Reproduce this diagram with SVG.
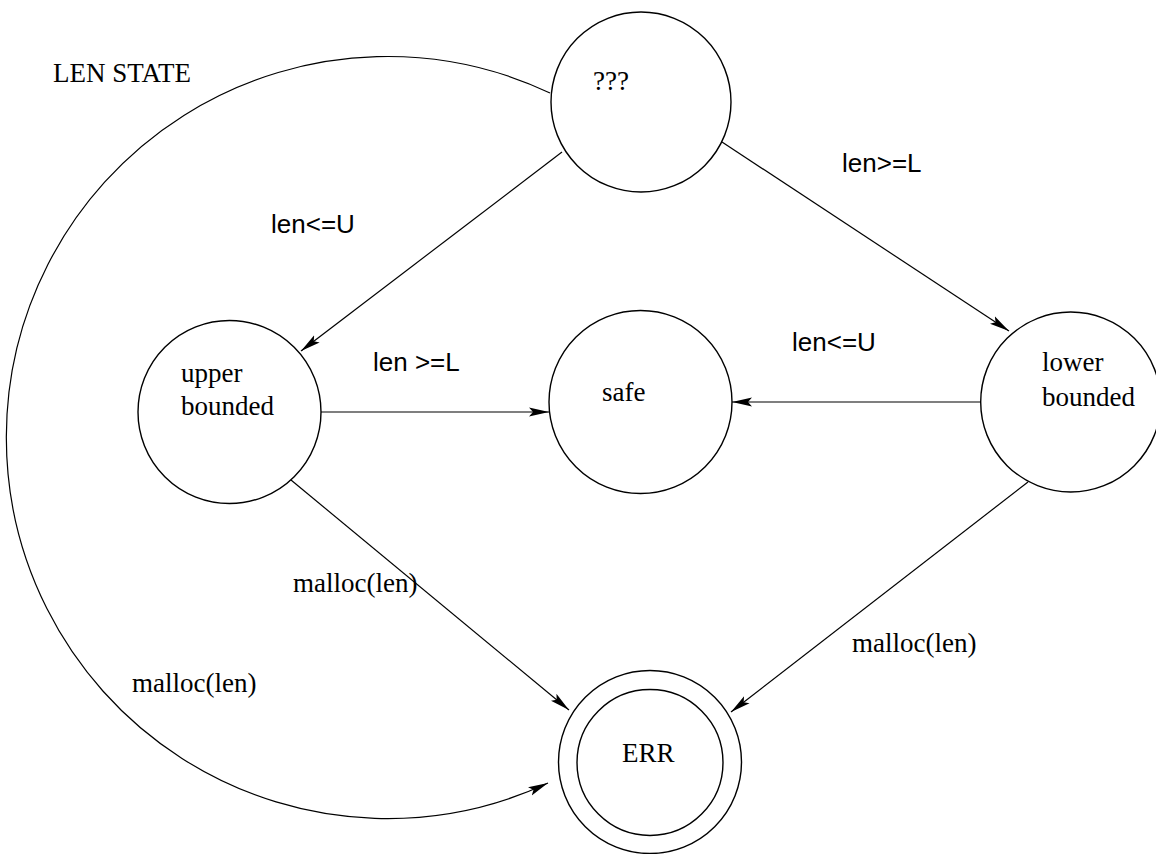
<svg xmlns="http://www.w3.org/2000/svg" width="1156" height="854" viewBox="0 0 1156 854">
<style>
.st{fill:none;stroke:#000;stroke-width:1.4}
.ln{fill:none;stroke:#000;stroke-width:1.2}
.tr{font-family:"Liberation Serif","Times New Roman",serif;font-size:27px;fill:#000}
.ts{font-family:"Liberation Sans",Arial,sans-serif;font-size:26px;fill:#000}
</style>
<defs>
<marker id="ah" markerUnits="userSpaceOnUse" viewBox="0 0 20 10" markerWidth="20" markerHeight="10" refX="20" refY="5" orient="auto">
<path d="M0,0.5 L20,5 L0,9.5 L4,5 z" fill="#000"/>
</marker>
</defs>
<rect width="1156" height="854" fill="#fff"/>
<text class="tr" x="53" y="82">LEN STATE</text>
<g id="unknown">
<circle class="st" cx="641" cy="102" r="90"/>
<text class="tr" x="593" y="90">???</text>
</g>
<g id="upper">
<circle class="st" cx="229.5" cy="412" r="91.5"/>
<text class="tr" x="181" y="382">upper</text>
<text class="tr" x="181" y="415">bounded</text>
</g>
<g id="safe">
<circle class="st" cx="640.5" cy="402" r="91.5"/>
<text class="tr" x="602" y="401">safe</text>
</g>
<g id="lower">
<circle class="st" cx="1070.7" cy="402" r="90"/>
<text class="tr" x="1042" y="371">lower</text>
<text class="tr" x="1042" y="406">bounded</text>
</g>
<g id="err">
<circle class="st" cx="650" cy="762" r="91.5"/>
<circle class="st" cx="650" cy="762.5" r="73"/>
<text class="tr" x="622" y="762">ERR</text>
</g>
<g id="connectors">
<line class="ln" x1="562" y1="152" x2="301" y2="351" marker-end="url(#ah)"/>
<line class="ln" x1="722" y1="142" x2="1009" y2="331" marker-end="url(#ah)"/>
<line class="ln" x1="321" y1="412" x2="549" y2="412" marker-end="url(#ah)"/>
<line class="ln" x1="981" y1="402" x2="732" y2="402" marker-end="url(#ah)"/>
<line class="ln" x1="291" y1="480" x2="569" y2="710" marker-end="url(#ah)"/>
<line class="ln" x1="1028" y1="482" x2="731" y2="712" marker-end="url(#ah)"/>
<path class="ln" d="M550,93 A381,381 0 1 0 548,783" marker-end="url(#ah)"/>
<text class="ts" x="271" y="233">len&lt;=U</text>
<text class="ts" x="842" y="172">len&gt;=L</text>
<text class="ts" x="373" y="371">len &gt;=L</text>
<text class="ts" x="792" y="351">len&lt;=U</text>
<text class="tr" x="293" y="592">malloc(len)</text>
<text class="tr" x="852" y="652">malloc(len)</text>
<text class="tr" x="132" y="692">malloc(len)</text>
</g>
</svg>
